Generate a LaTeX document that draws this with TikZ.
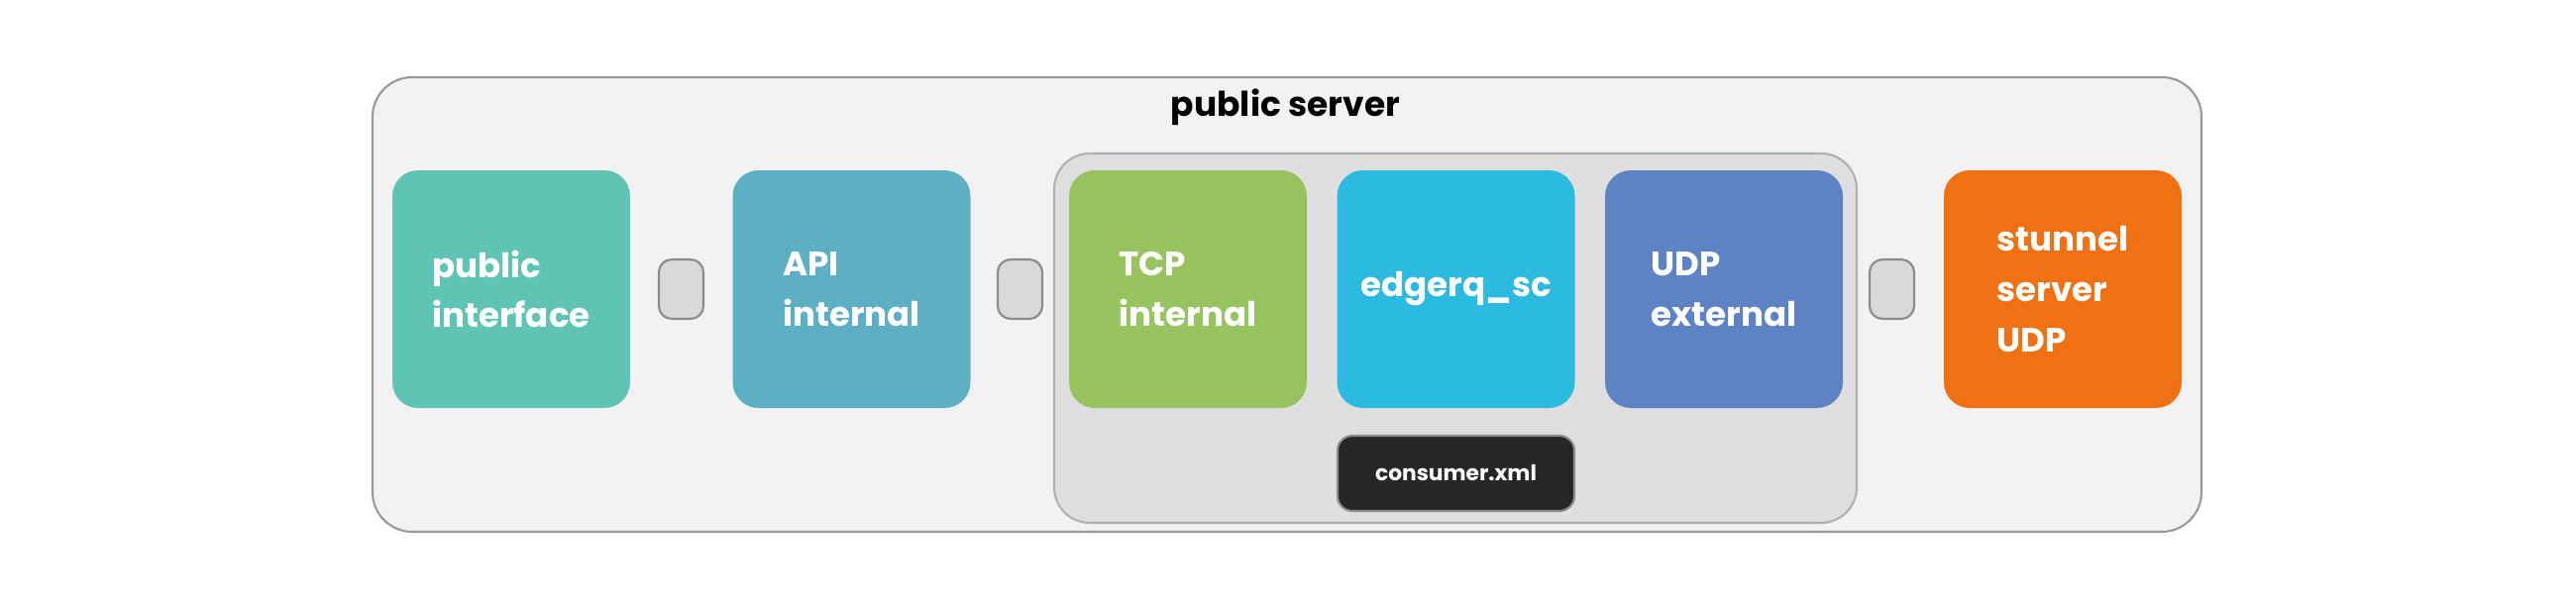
\documentclass[tikz,border=0pt]{standalone}
\usepackage{fontspec}
\setmainfont{Poppins}

\definecolor{serverfill}{HTML}{F2F2F2}
\definecolor{serverline}{HTML}{999999}
\definecolor{stackfill}{HTML}{DFDFDF}
\definecolor{stackline}{HTML}{B0B0B0}
\definecolor{portfill}{HTML}{D9D9D9}
\definecolor{portline}{HTML}{8C8C8C}
\definecolor{pubteal}{HTML}{5FC4B4}
\definecolor{apiblue}{HTML}{5DAFC4}
\definecolor{tcpgreen}{HTML}{97C45E}
\definecolor{edgecyan}{HTML}{2BBAE0}
\definecolor{udpblue}{HTML}{5D83C4}
\definecolor{tunnelorange}{HTML}{F07012}
\definecolor{xmlblack}{HTML}{262626}

\tikzset{
  server/.style={draw=serverline, fill=serverfill, line width=0.6pt,
    rounded corners=0.4cm, minimum width=18.46cm, minimum height=4.59cm},
  stack/.style={draw=stackline, fill=stackfill, line width=0.6pt,
    rounded corners=0.36cm, minimum width=8.1cm, minimum height=3.73cm},
  module/.style={rounded corners=0.26cm, minimum width=2.4cm, minimum height=2.4cm,
    text=white, align=left, inner sep=0pt,
    font=\bfseries\fontsize{9.7}{14.4}\selectfont},
  port/.style={draw=portline, fill=portfill, line width=0.6pt,
    rounded corners=0.13cm, minimum width=0.45cm, minimum height=0.6cm, inner sep=0pt},
  cfgfile/.style={draw=portline, fill=xmlblack, line width=0.6pt, text=white,
    rounded corners=0.15cm, minimum width=2.39cm, minimum height=0.76cm, inner sep=0pt,
    font=\bfseries\fontsize{6.2}{8}\selectfont},
  servertitle/.style={anchor=base, font=\bfseries\fontsize{9.8}{12}\selectfont}
}

\newcommand{\module}[5]{
\node[module, fill=#4] (#1) at (#2, #3) {#5};
}
\newcommand{\port}[3]{
\node[port] (#1) at (#2, #3) {};
}

\begin{document}
\begin{tikzpicture}[scale=1]
\useasboundingbox (0,0) rectangle (26,6.14);

\node[server] (server) at (12.99, 3.065) {};
\node[servertitle] (title) at (12.975, 4.97) {public server};
\node[stack] (stack) at (14.69, 2.725) {};

\module{pubif}{5.16}{3.22}{pubteal}{public\\interface}
\port{portA}{6.875}{3.22}
\module{apiint}{8.595}{3.22}{apiblue}{API\\internal}
\port{portB}{10.295}{3.22}
\module{tcpint}{11.99}{3.22}{tcpgreen}{TCP\\internal}
\module{edgerq}{14.695}{3.22}{edgecyan}{edgerq\_sc}
\module{udpext}{17.40}{3.22}{udpblue}{UDP\\external}
\port{portC}{19.095}{3.22}
\module{stunnel}{20.82}{3.22}{tunnelorange}{stunnel\\server\\UDP}

\node[cfgfile] (consumer) at (14.695, 1.36) {consumer.xml};
\end{tikzpicture}
\end{document}
